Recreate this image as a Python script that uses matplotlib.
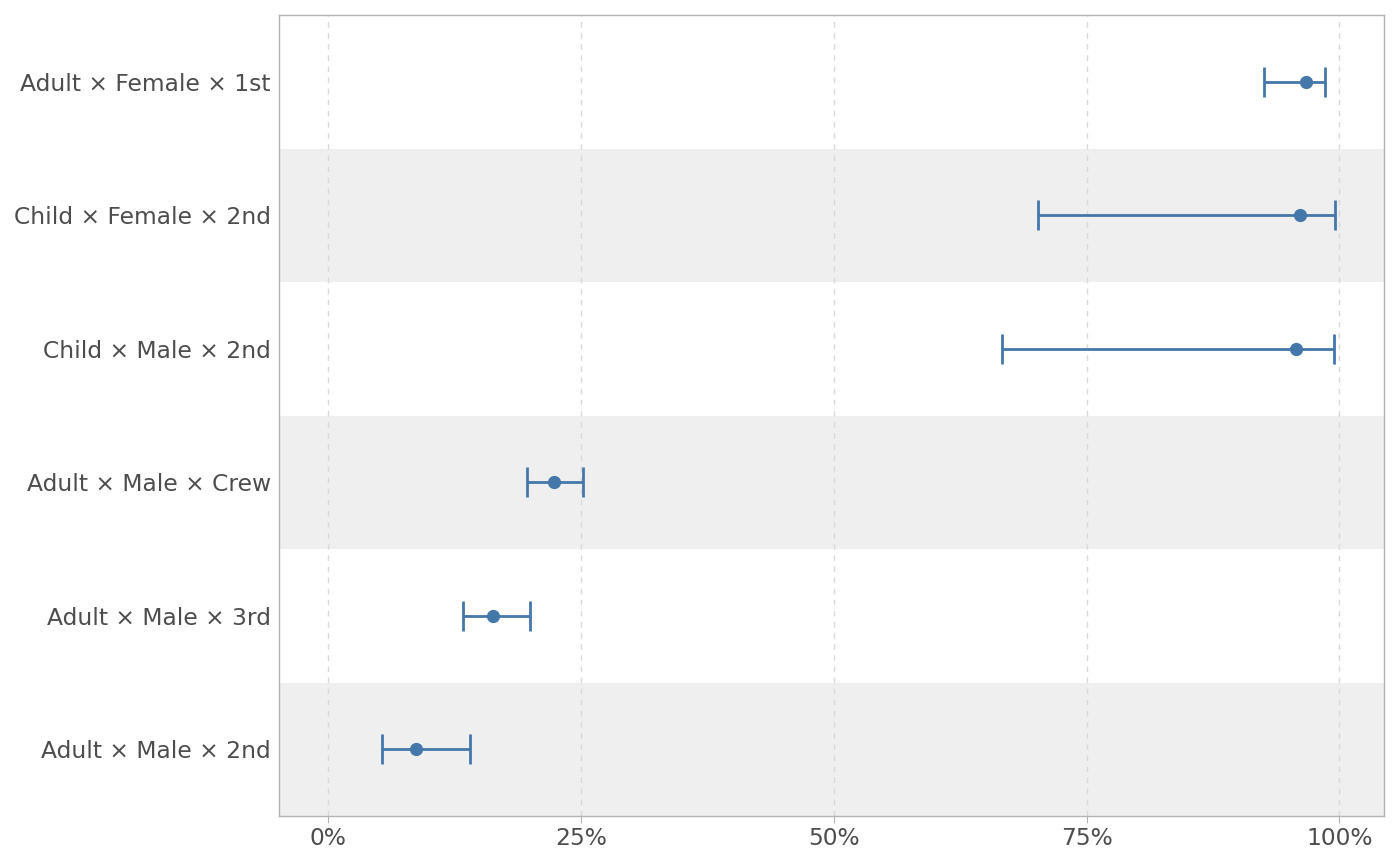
import numpy as np
import matplotlib.pyplot as plt

plt.rcParams['font.family'] = ['DejaVu Sans']

# Survival estimates with confidence intervals (proportions)
labels = ["Adult × Female × 1st", "Child × Female × 2nd", "Child × Male × 2nd",
          "Adult × Male × Crew", "Adult × Male × 3rd", "Adult × Male × 2nd"]
estimate = [0.967, 0.961, 0.957, 0.223, 0.163, 0.087]
lower = [0.925, 0.702, 0.666, 0.197, 0.133, 0.053]
upper = [0.986, 0.996, 0.995, 0.252, 0.200, 0.140]
xticks = [0, 0.25, 0.5, 0.75, 1.0]
xticklabels = ["0%", "25%", "50%", "75%", "100%"]

n = len(labels)
ypos = np.arange(n, 0, -1)  # first label at top

fig = plt.figure(figsize=(14, 8.66), dpi=100)
ax = fig.add_axes([279 / 1400, 1 - 816 / 866, (1384 - 279) / 1400, (816 - 15) / 866])

# alternating background stripes
for i, y in enumerate(ypos):
    if i % 2 == 1:
        ax.axhspan(y - 0.5, y + 0.5, color="#efefef", lw=0, zorder=0)

for x in xticks:
    ax.axvline(x, color="#d9d9d9", lw=1, ls=(0, (4, 4)), zorder=1)

est = np.array(estimate)
err = [est - np.array(lower), np.array(upper) - est]
ax.errorbar(est, ypos, xerr=err, fmt="o", color="#4477aa", ms=8.5, lw=2,
            capsize=11, capthick=2, zorder=3)

ax.set_xlim(-0.0485, 1.044)
ax.set_ylim(0.5, n + 0.5)
ax.set_yticks(ypos)
ax.set_yticklabels(labels)
ax.set_xticks(xticks)
ax.set_xticklabels(xticklabels)
ax.tick_params(axis="y", length=0, pad=6, labelsize=16.8, labelcolor="#4d4d4d")
ax.tick_params(axis="x", length=5, color="#b3b3b3", pad=3, labelsize=16.8, labelcolor="#4d4d4d")
for s in ax.spines.values():
    s.set_color("#b3b3b3")
    s.set_linewidth(1)

fig.savefig("out.png", dpi=100)
